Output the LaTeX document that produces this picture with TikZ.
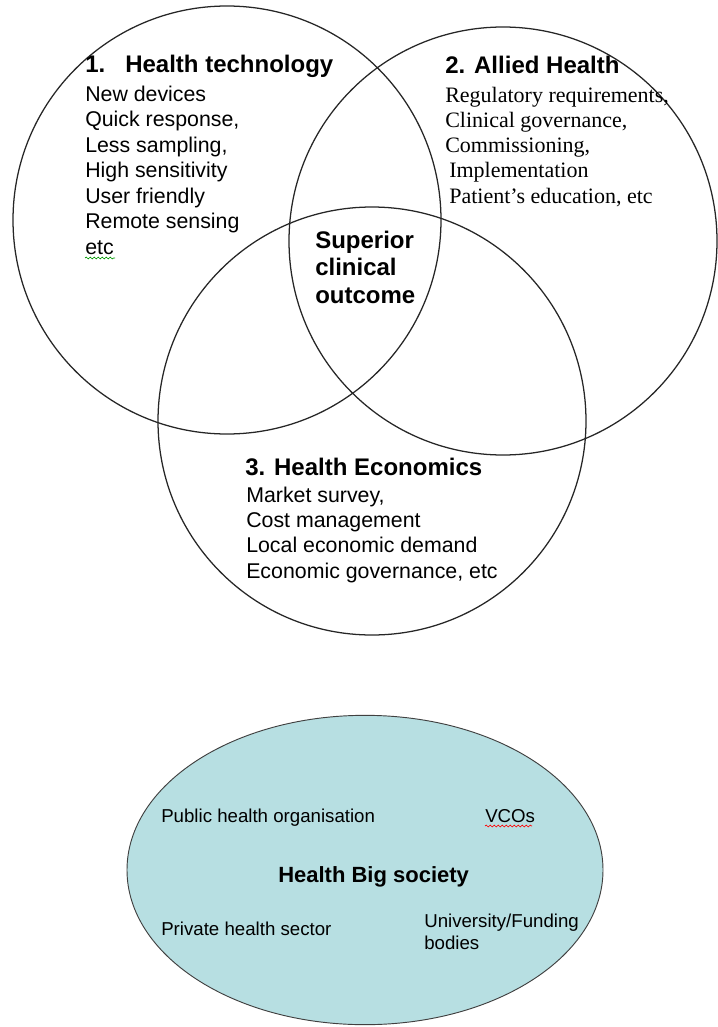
\documentclass[tikz,border=0pt]{standalone}
\usepackage{fontspec}
\setmainfont{Liberation Sans}
\newfontfamily\timesfont{Liberation Serif}
\usetikzlibrary{shapes.geometric, positioning, decorations.pathmorphing}
\definecolor{societyfill}{RGB}{183,223,226}

\begin{document}
\begin{tikzpicture}[x=0.75pt,y=-0.75pt,align=left]
\tikzstyle{area}=[circle,draw=black!85,line width=0.95pt,minimum size=321pt]
\tikzstyle{heading}=[anchor=base west,inner sep=0pt,font=\fontsize{18}{20.6}\selectfont\bfseries]
\tikzstyle{items}=[anchor=base west,inner sep=0pt,font=\fontsize{16}{19.1}\selectfont]
\tikzstyle{partner}=[anchor=base west,inner sep=0pt,font=\fontsize{14}{16.5}\selectfont]
\tikzstyle{squiggle}=[decorate,decoration={snake,amplitude=0.7pt,segment length=3pt},line width=0.5pt]

\useasboundingbox (0,0) rectangle (717,1027);

% the three areas
\node[area] (tech) at (227,220) {};
\node[area] (allied) at (503,241) {};
\node[area] (econ) at (372,421) {};

% multi-line nodes sit on the baseline of their last line
\node[heading] (techtitle) at (85,73) {1.\hspace{15pt}Health technology};
\node[items] (techitems) at (85,254) {New devices\\Quick response,\\Less sampling,\\High sensitivity\\User friendly\\Remote sensing\\etc};

\node[heading] (alliedtitle) at (445,74) {2. Allied Health};
\node[items, font=\fontsize{16.5}{18.8}\selectfont\timesfont] (allieditems) at (445,203)
  {Regulatory requirements,\\Clinical governance,\\Commissioning,\\\hspace{3pt}Implementation\\\hspace{3pt}Patient’s education, etc};

\node[heading] (outcome) at (315,303) {Superior\\clinical\\outcome};

\node[heading] (econtitle) at (245,475) {3. Health Economics};
\node[items, font=\fontsize{16}{18.8}\selectfont] (econitems) at (246,578)
  {Market survey,\\Cost management\\Local economic demand\\Economic governance, etc};

% big society
\node[ellipse, draw=black!75, line width=0.7pt, fill=societyfill,
      minimum width=357pt, minimum height=232pt] (society) at (365,870) {};
\node[partner] (public) at (161,822) {Public health organisation};
\node[partner] (vcos) at (485,822) {VCOs};
\node[heading, font=\fontsize{16.5}{19}\selectfont\bfseries] (bigsociety) at (278,882) {Health Big society};
\node[partner] (private) at (161,935) {Private health sector};
\node[partner] (funding) at (424,949) {University/Funding\\bodies};

% spell-check marks
\draw[squiggle, green!60!black] (85,258) -- (115,258);
\draw[squiggle, red] (485,826) -- (532,826);
\end{tikzpicture}
\end{document}
